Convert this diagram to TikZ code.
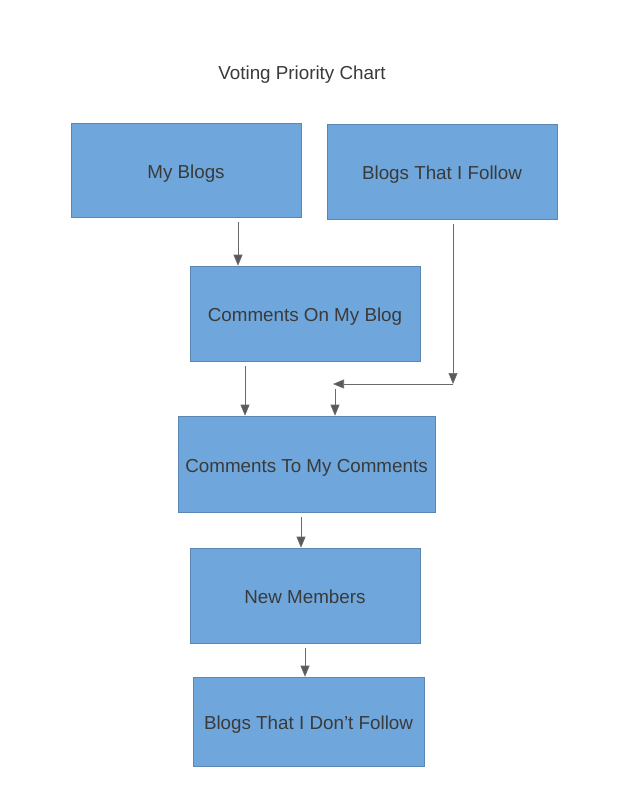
\documentclass[tikz,border=0pt]{standalone}
\usepackage{fontspec}
\setmainfont{Liberation Sans}
\usetikzlibrary{arrows.meta}
\definecolor{boxblue}{HTML}{6FA7DC}
\definecolor{boxedge}{HTML}{5B87B5}
\definecolor{txtgray}{HTML}{3A3A3A}
\definecolor{arrgray}{HTML}{6A6A6A}
\tikzset{
  stepbox/.style={draw=boxedge, line width=0.6pt, fill=boxblue, text=txtgray,
    font=\fontsize{18.8}{22}\selectfont, inner sep=0pt, text height=16pt, text depth=0pt},
  flow/.style={draw=arrgray, line width=0.6pt,
    -{Triangle[width=9pt,length=11pt,fill=arrgray!85!black]}},
}
\begin{document}
\begin{tikzpicture}[x=1pt,y=-1pt]
\useasboundingbox (0,0) rectangle (618,800);
\fill[white] (0,0) rectangle (618,800);
\node[text=txtgray, font=\fontsize{18.8}{22}\selectfont, text height=16pt, text depth=0pt, inner sep=0pt] (title) at (302,71) {Voting Priority Chart};
\node[stepbox, minimum width=230pt, minimum height=94pt] (myblogs) at (186,170) {My Blogs};
\node[stepbox, minimum width=230pt, minimum height=95pt] (follow) at (442,171.5) {Blogs That I Follow};
\node[stepbox, minimum width=230pt, minimum height=95pt] (comments) at (305,313.5) {Comments On My Blog};
\node[stepbox, minimum width=257pt, minimum height=96pt] (tomy) at (306.5,464) {Comments To My Comments};
\node[stepbox, minimum width=230pt, minimum height=95pt] (newm) at (305,595.5) {New Members};
\node[stepbox, minimum width=231pt, minimum height=89pt] (dont) at (308.5,721.5) {Blogs That I Don’t Follow};
\coordinate (c1) at (453,384);
\coordinate (c2) at (333,384);
\coordinate (c3) at (335,389);
\draw[flow] (myblogs.south -| 238,0) ++(0,5) -- (comments.north -| 238,0);
\draw[flow] (comments.south -| 245,0) ++(0,5) -- (tomy.north -| 245,0);
\draw[flow] (follow.south -| 453,0) ++(0,5) -- (c1);
\draw[flow] (c1) -- (c2);
\draw[flow] (c3) -- (tomy.north -| c3);
\draw[flow] (tomy.south -| 301,0) ++(0,5) -- (newm.north -| 301,0);
\draw[flow] (newm.south -| 305,0) ++(0,5) -- (dont.north -| 305,0);
\end{tikzpicture}
\end{document}
